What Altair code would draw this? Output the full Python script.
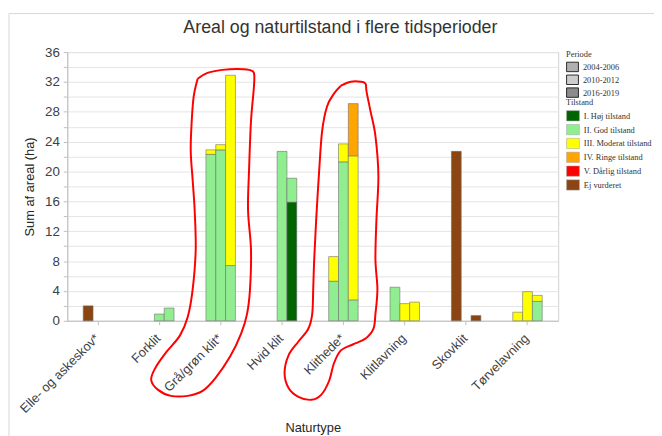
import altair as alt
import pandas as pd

# ---------------- data ----------------
naturtyper = ["Elle- og askeskov*", "Forklit", "Grå/grøn klit*", "Hvid klit",
              "Klithede*", "Klitlavning", "Skovklit", "Tørvelavning"]
perioder = ["2004-2006", "2010-2012", "2016-2019"]
tilstande = ["I. Høj tilstand", "II. God tilstand", "III. Moderat tilstand",
             "IV. Ringe tilstand", "V. Dårlig tilstand", "Ej vurderet"]
tilstand_farver = ["#006400", "#90EE90", "#FFFF00", "#FFA500", "#FF0000", "#8B4513"]
periode_farver = ["#b0b0b0", "#cdcdcd", "#8c8c8c"]

seg_type = ["Elle- og askeskov*",
            "Forklit", "Forklit",
            "Grå/grøn klit*", "Grå/grøn klit*", "Grå/grøn klit*", "Grå/grøn klit*",
            "Grå/grøn klit*", "Grå/grøn klit*",
            "Hvid klit", "Hvid klit", "Hvid klit",
            "Klithede*", "Klithede*", "Klithede*", "Klithede*",
            "Klithede*", "Klithede*", "Klithede*",
            "Klitlavning", "Klitlavning", "Klitlavning",
            "Skovklit", "Skovklit",
            "Tørvelavning", "Tørvelavning", "Tørvelavning", "Tørvelavning"]
seg_periode = ["2004-2006",
               "2010-2012", "2016-2019",
               "2004-2006", "2004-2006", "2010-2012", "2010-2012",
               "2016-2019", "2016-2019",
               "2010-2012", "2016-2019", "2016-2019",
               "2004-2006", "2004-2006", "2010-2012", "2010-2012",
               "2016-2019", "2016-2019", "2016-2019",
               "2004-2006", "2010-2012", "2016-2019",
               "2004-2006", "2016-2019",
               "2004-2006", "2010-2012", "2016-2019", "2016-2019"]
seg_tilstand = ["Ej vurderet",
                "II. God tilstand", "II. God tilstand",
                "II. God tilstand", "III. Moderat tilstand", "II. God tilstand", "III. Moderat tilstand",
                "II. God tilstand", "III. Moderat tilstand",
                "II. God tilstand", "I. Høj tilstand", "II. God tilstand",
                "II. God tilstand", "III. Moderat tilstand", "II. God tilstand", "III. Moderat tilstand",
                "II. God tilstand", "III. Moderat tilstand", "IV. Ringe tilstand",
                "II. God tilstand", "III. Moderat tilstand", "III. Moderat tilstand",
                "Ej vurderet", "Ej vurderet",
                "III. Moderat tilstand", "III. Moderat tilstand", "II. God tilstand", "III. Moderat tilstand"]
seg_areal = [2.0,
             0.9, 1.7,
             22.3, 0.6, 22.9, 0.7,
             7.4, 25.5,
             22.7, 15.9, 3.2,
             5.3, 3.3, 21.3, 2.4,
             2.8, 19.3, 7.0,
             4.5, 2.3, 2.5,
             22.7, 0.7,
             1.15, 3.9, 2.6, 0.8]

# hand-drawn red annotation loops (x in category units, y in ha)
loop1_x = [2.125, 2.286, 2.527, 2.769, 2.962, 3.042, 3.042, 2.994, 2.962, 2.946, 2.994, 2.978,
           2.930, 2.833, 2.656, 2.414, 2.205, 1.964, 1.690, 1.481, 1.368, 1.433, 1.610, 1.835,
           1.964, 2.044, 2.093, 2.076, 2.044, 2.012, 2.028, 2.060, 2.125]
loop1_y = [32.43, 33.22, 33.62, 33.75, 33.62, 33.22, 31.37, 26.74, 20.12, 14.82, 9.53, 4.24,
           0.93, -1.72, -4.76, -7.68, -9.40, -10.06, -10.06, -9.26, -7.94, -6.35, -4.24, -1.99,
           0.53, 4.24, 9.53, 14.82, 18.79, 22.76, 26.74, 30.04, 32.43]
loop2_x = [4.459, 4.620, 4.781, 4.861, 4.877, 4.942, 5.022, 5.070, 5.038, 5.022, 5.054, 5.022,
           4.990, 4.861, 4.652, 4.459, 4.346, 4.266, 4.137, 3.976, 3.767, 3.606, 3.541, 3.606,
           3.767, 3.928, 3.992, 4.008, 4.024, 4.056, 4.105, 4.153, 4.233, 4.346, 4.459]
loop2_y = [31.50, 32.03, 32.03, 31.76, 30.71, 28.06, 24.75, 19.46, 13.50, 8.21, 4.24, 0.93,
           -1.06, -2.38, -3.18, -3.97, -5.69, -8.07, -9.93, -10.59, -10.19, -9.00, -7.01, -4.63,
           -2.78, -1.06, 0.93, 4.24, 8.21, 13.50, 20.12, 25.41, 28.72, 30.44, 31.50]

# ---------------- tables ----------------
df = pd.DataFrame({"Naturtype": seg_type, "Periode": seg_periode,
                   "Tilstand": seg_tilstand, "Areal": seg_areal})
df["ord"] = df["Tilstand"].map({t: i for i, t in enumerate(tilstande)})
df = df.sort_values(["Naturtype", "Periode", "ord"]).reset_index(drop=True)
df["y1"] = df.groupby(["Naturtype", "Periode"])["Areal"].cumsum()
df["y0"] = df["y1"] - df["Areal"]

loops = pd.concat([
    pd.DataFrame({"lx": loop1_x, "ly": loop1_y, "i": range(len(loop1_x)), "loop": "a"}),
    pd.DataFrame({"lx": loop2_x, "ly": loop2_y, "i": range(len(loop2_x)), "loop": "b"}),
])

FONT = "Liberation Sans"
LFONT = "Liberation Serif"
NB = "\u00a0"
rect_path = "M-1,-0.8H1V0.8H-1Z"

# ---------------- layers ----------------
frame = alt.Chart(pd.DataFrame({"a": [0]})).mark_rule(color="#d6d6d6", strokeWidth=1).encode(
    x=alt.value(-59), y=alt.value(-39), y2=alt.value(420))
frame_top = alt.Chart(pd.DataFrame({"a": [0]})).mark_rule(color="#d6d6d6", strokeWidth=1).encode(
    x=alt.value(-59), x2=alt.value(620), y=alt.value(-39))

bars = alt.Chart(df).mark_bar(stroke="#707070", strokeWidth=0.6).encode(
    x=alt.X("Naturtype:N", sort=naturtyper,
            scale=alt.Scale(domain=naturtyper, paddingInner=0.52, paddingOuter=0.26),
            axis=alt.Axis(title="Naturtype", labelAngle=-45, labelOverlap=False,
                          labelFontSize=13, labelPadding=7, labelOffset=-5,
                          tickSize=4, titlePadding=6, grid=False)),
    xOffset=alt.XOffset("Periode:N", scale=alt.Scale(domain=perioder, paddingInner=0, paddingOuter=0)),
    y=alt.Y("y0:Q", scale=alt.Scale(domain=[0, 36], nice=False),
            axis=alt.Axis(title="Sum af areal (ha)", values=list(range(0, 37, 2)),
                          labelExpr="datum.value % 4 === 0 ? datum.label : ''",
                          tickSize=4, labelPadding=4, titlePadding=8, grid=True)),
    y2="y1:Q",
    fill=alt.Fill("Tilstand:N", scale=alt.Scale(domain=tilstande, range=tilstand_farver),
                  legend=alt.Legend(title=NB * 7 + "Tilstand", orient="none", legendX=505, legendY=47,
                                    symbolType=rect_path, symbolSize=169,
                                    symbolStrokeColor="#a0a0a0", symbolStrokeWidth=0.5)),
)

loop_layer = alt.Chart(loops).mark_line(color="#ff0000", strokeWidth=2, interpolate="cardinal").encode(
    x=alt.X("lx:Q", scale=alt.Scale(domain=[0, 8], nice=False, zero=False), axis=None),
    y=alt.Y("ly:Q", scale=alt.Scale(domain=[0, 36], nice=False), axis=None),
    order="i:Q",
    detail="loop:N",
)

period_legend = alt.Chart(pd.DataFrame({"Periode": perioder})).mark_point(
    filled=True, opacity=0).encode(
    color=alt.Color("Periode:N", scale=alt.Scale(domain=perioder, range=periode_farver),
                    legend=alt.Legend(title=NB * 7 + "Periode", orient="none", legendX=505, legendY=-2,
                                      symbolType=rect_path, symbolSize=144, symbolOpacity=1,
                                      symbolStrokeColor="#000000", symbolStrokeWidth=0.8)),
)

chart = alt.layer(frame, frame_top, bars, loop_layer, period_legend).resolve_scale(
    x="independent", y="independent", color="independent", fill="independent"
).properties(
    width=497, height=272,
    padding={"left": 60, "top": 42, "right": 97, "bottom": 114},
    autosize=alt.AutoSizeParams(type="none"),
    title=alt.TitleParams("Areal og naturtilstand i flere tidsperioder", font=FONT, fontSize=18,
                          fontWeight="normal", color="#333333", anchor="middle", dx=28,
                          baseline="alphabetic", offset=-38),
).configure(
    background="white",
    font=FONT,
).configure_view(
    stroke="#d0d0d0", strokeWidth=1,
).configure_axis(
    labelFont=FONT, labelColor="#404040", labelFontSize=13.5,
    titleFont=FONT, titleColor="#262626", titleFontSize=13, titleFontWeight="normal",
    domainColor="#bfbfbf", tickColor="#bfbfbf", gridColor="#e4e4e4",
).configure_legend(
    labelFont=LFONT, labelFontSize=8.5, labelColor="#333333", labelOffset=4,
    titleFont=LFONT, titleFontSize=8.5, titleFontWeight="normal", titleColor="#333333",
    titlePadding=2, rowPadding=0, labelLimit=200,
)

chart.save("out.html", embed_options={"renderer": "svg", "actions": False})
